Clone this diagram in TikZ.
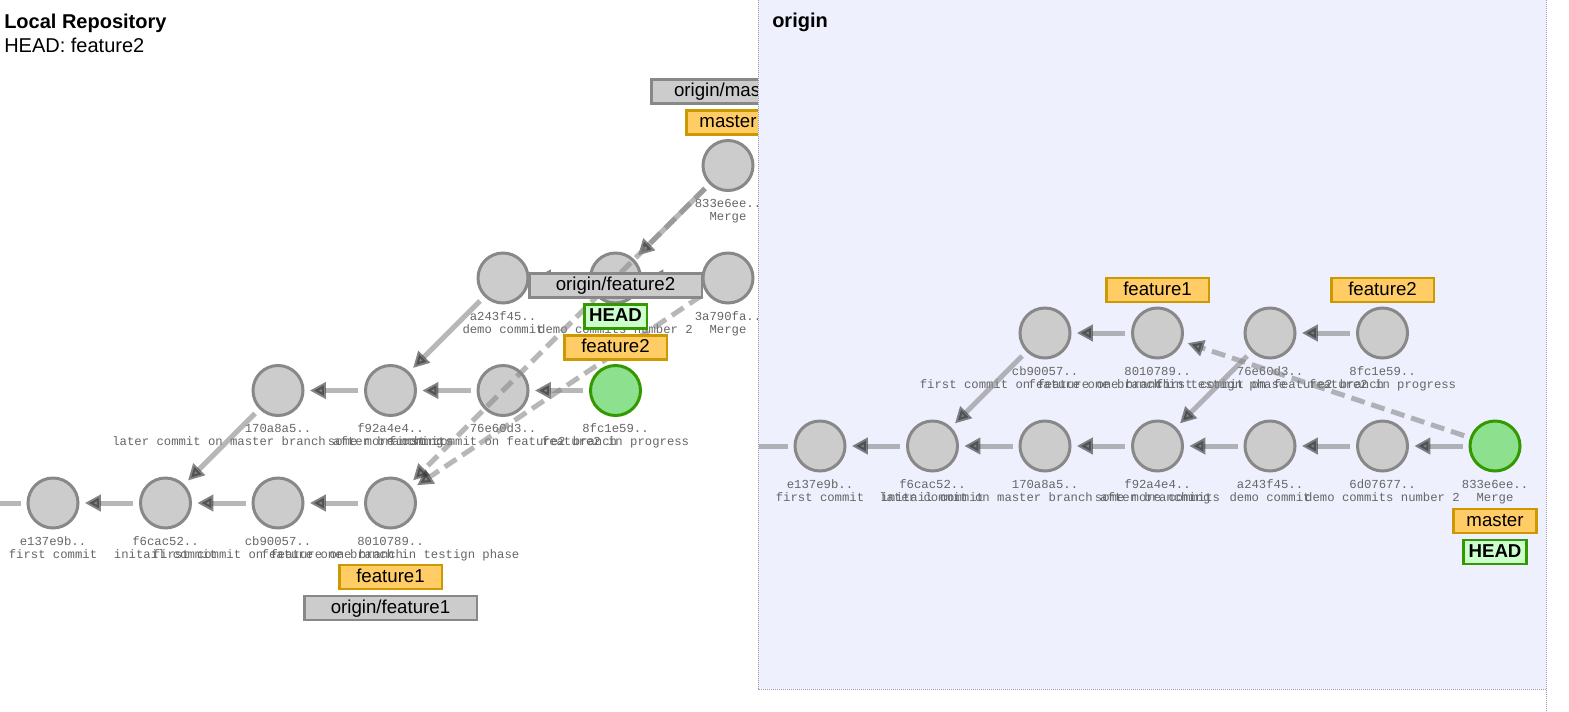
\documentclass[tikz,border=0pt]{standalone}
\usepackage{fontspec}
\setmainfont{Liberation Sans}
\setmonofont{Liberation Mono}
\usetikzlibrary{arrows.meta, positioning}

\definecolor{commitfill}{HTML}{CCCCCC}
\definecolor{commitline}{HTML}{888888}
\definecolor{headfill}{HTML}{8DE08D}
\definecolor{headline}{HTML}{339900}
\definecolor{branchfill}{HTML}{FFCC66}
\definecolor{branchline}{HTML}{CC9900}
\definecolor{remotefill}{HTML}{CCCCCC}
\definecolor{remoteline}{HTML}{888888}
\definecolor{headtagfill}{HTML}{CCFFCC}
\definecolor{edgegray}{HTML}{888888}
\definecolor{tipgray}{HTML}{333333}
\definecolor{msggray}{HTML}{666666}
\definecolor{originbg}{HTML}{EEF0FD}
\definecolor{borderdot}{HTML}{9A9AAA}

\begin{document}
\begin{tikzpicture}[x=0.75pt, y=-0.75pt,
  commit/.style={circle, minimum size=37.5pt, inner sep=0pt, line width=2.25pt, draw=commitline, fill=commitfill},
  headcommit/.style={commit, draw=headline, fill=headfill},
  hashtext/.style={anchor=base, inner sep=0pt, text=msggray, font=\ttfamily\fontsize{9.2pt}{11pt}\selectfont},
  parentedge/.style={line width=3.75pt, draw=edgegray, opacity=0.6, shorten <=4.5pt, shorten >=4pt,
    -{Triangle[length=12pt, width=12pt, color=tipgray]}},
  mergeedge/.style={parentedge, dash pattern=on 10.5pt off 5.25pt},
  stubedge/.style={line width=3.75pt, draw=edgegray, opacity=0.6, shorten <=4.5pt},
  tagbox/.style={rectangle, line width=1.9pt, minimum height=18pt, inner sep=0pt,
    text height=10.5pt, text depth=2.7pt, font=\fontsize{14pt}{16pt}\selectfont},
  branchtag/.style={tagbox, draw=branchline, fill=branchfill},
  remotetag/.style={tagbox, draw=remoteline, fill=remotefill},
  headtag/.style={tagbox, draw=headline, fill=headtagfill, font=\fontsize{14pt}{16pt}\selectfont\bfseries},
  paneltitle/.style={anchor=base west, inner sep=0pt, font=\fontsize{15pt}{18pt}\selectfont}
]
\useasboundingbox (0,0) rectangle (1569,711);
\fill[white] (0,0) rectangle (1569,711);

% Local repository
\node[paneltitle, font=\fontsize{15pt}{18pt}\selectfont\bfseries] (ltitle) at (4,28) {Local Repository};
\node[paneltitle] (lheadinfo) at (4,52.5) {HEAD: feature2};

\foreach \n/\x/\y/\h/\m in {
  le137/53/503/e137e9b/first commit,
  lf6ca/165.5/503/f6cac52/initail commit,
  lcb90/278/503/cb90057/first commit on feature one branch,
  l8010/390.5/503/8010789/feature one branch in testign phase,
  l170a/278/390.5/170a8a5/later commit on master branch after branching,
  lf92a/390.5/390.5/f92a4e4/some more commits,
  l76e6/503/390.5/76e60d3/first commit on feature2 branch,
  la243/503/278/a243f45/demo commit,
  l6d07/615.5/278/6d07677/demo commits number 2,
  l3a79/728/278/3a790fa/Merge,
  l833e/728/165.5/833e6ee/Merge} {
  \node[commit] (\n) at (\x,\y) {};
  \node[hashtext] (\n-h) at (\x,\y+42) {\h..};
  \node[hashtext] (\n-m) at (\x,\y+55) {\m};
}
\node[headcommit] (l8fc1) at (615.5,390.5) {};
\node[hashtext] (l8fc1-h) at (615.5,432.5) {8fc1e59..};
\node[hashtext] (l8fc1-m) at (615.5,445.5) {feature2 in progress};

\coordinate (lstub) at (-2,503);
\draw[stubedge] (le137) -- (lstub);
\foreach \a/\b in {lf6ca/le137, lcb90/lf6ca, l8010/lcb90, l170a/lf6ca, lf92a/l170a,
  l76e6/lf92a, l8fc1/l76e6, la243/lf92a, l6d07/la243, l3a79/l6d07, l833e/l6d07}
  \draw[parentedge] (\a) -- (\b);
\draw[mergeedge] (l833e) -- (l8010);
\draw[mergeedge] (l3a79) -- (l8010);

\node[branchtag, minimum width=61.9pt, above=2.4pt of l833e] (lmaster) {master};
\node[remotetag, minimum width=114.4pt, above=3.4pt of lmaster] (lorigmaster) {origin/master};
\node[branchtag, minimum width=76.9pt, above=2.4pt of l8fc1] (lfeature2) {feature2};
\node[headtag, minimum width=46.9pt, above=3.4pt of lfeature2] (lhead) {HEAD};
\node[remotetag, minimum width=129.4pt, above=3.4pt of lhead] (lorigfeature2) {origin/feature2};
\node[branchtag, minimum width=76.9pt, below=25.7pt of l8010] (lfeature1) {feature1};
\node[remotetag, minimum width=129.4pt, below=3.4pt of lfeature1] (lorigfeature1) {origin/feature1};

% origin
\fill[originbg] (758,0) rectangle (1546,689);
\draw[borderdot, line width=0.75pt, dash pattern=on 0.75pt off 0.75pt] (758,0) -- (758,689) -- (1546,689);
\draw[borderdot, line width=0.75pt, dash pattern=on 0.75pt off 0.75pt] (1546,0) -- (1546,711);
\node[paneltitle, font=\fontsize{15pt}{18pt}\selectfont\bfseries] (otitle) at (772,27) {origin};

\foreach \n/\x/\y/\h/\m in {
  oe137/820/446/e137e9b/first commit,
  of6ca/932.5/446/f6cac52/initail commit,
  o170a/1045/446/170a8a5/later commit on master branch after branching,
  of92a/1157.5/446/f92a4e4/some more commits,
  oa243/1270/446/a243f45/demo commit,
  o6d07/1382.5/446/6d07677/demo commits number 2,
  ocb90/1045/333/cb90057/first commit on feature one branch,
  o8010/1157.5/333/8010789/feature one branch in testign phase,
  o76e6/1270/333/76e60d3/first commit on feature2 branch,
  o8fc1/1382.5/333/8fc1e59/feature2 in progress} {
  \node[commit] (\n) at (\x,\y) {};
  \node[hashtext] (\n-h) at (\x,\y+42) {\h..};
  \node[hashtext] (\n-m) at (\x,\y+55) {\m};
}
\node[headcommit] (o833e) at (1495,446) {};
\node[hashtext] (o833e-h) at (1495,488) {833e6ee..};
\node[hashtext] (o833e-m) at (1495,501) {Merge};

\coordinate (ostub) at (759,446);
\draw[stubedge] (oe137) -- (ostub);
\foreach \a/\b in {of6ca/oe137, o170a/of6ca, of92a/o170a, oa243/of92a, o6d07/oa243,
  o833e/o6d07, ocb90/of6ca, o8010/ocb90, o76e6/of92a, o8fc1/o76e6}
  \draw[parentedge] (\a) -- (\b);
\draw[mergeedge] (o833e) -- (o8010);

\node[branchtag, minimum width=76.9pt, above=2.4pt of o8010] (ofeature1) {feature1};
\node[branchtag, minimum width=76.9pt, above=2.4pt of o8fc1] (ofeature2) {feature2};
\node[branchtag, minimum width=61.9pt, below=26.4pt of o833e] (omaster) {master};
\node[headtag, minimum width=46.9pt, below=3.4pt of omaster] (ohead) {HEAD};
\end{tikzpicture}
\end{document}
